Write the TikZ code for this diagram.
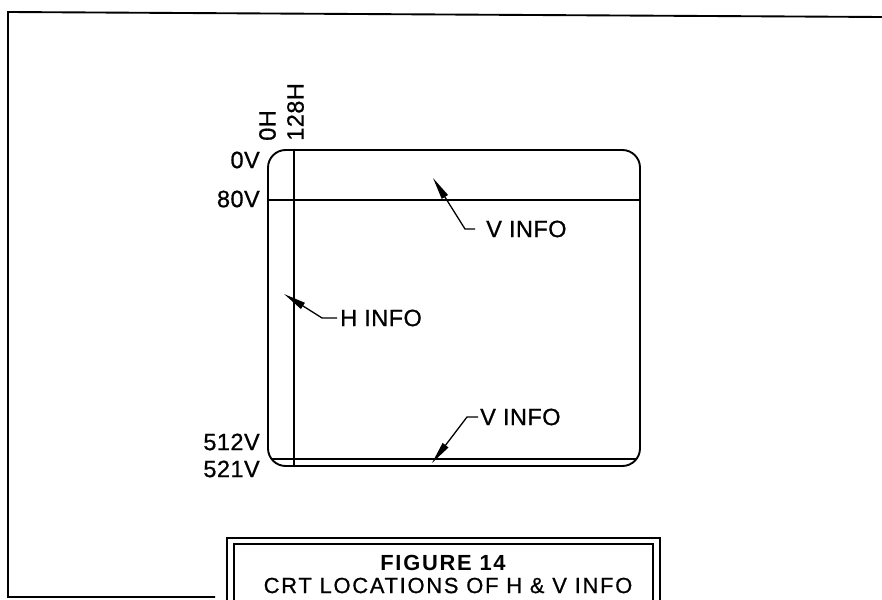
\documentclass[tikz,border=0pt]{standalone}
\usepackage{fontspec}
\setmainfont{Liberation Sans}
\newfontfamily\lblfont[LetterSpace=2,FakeBold=0.8]{Liberation Sans}
\newfontfamily\capfont[LetterSpace=8,FakeBold=0.8]{Liberation Sans}
\newfontfamily\capbfont[LetterSpace=8]{Liberation Sans Bold}
\usetikzlibrary{arrows.meta}
\begin{document}
\begin{tikzpicture}[x=0.85pt,y=-0.85pt,
  lbl/.style={font=\lblfont\fontsize{20}{22}\selectfont, inner sep=0pt},
  captext/.style={font=\capfont\fontsize{18.6}{21}\selectfont, inner sep=0pt},
  capbold/.style={font=\capbfont\fontsize{18.6}{21}\selectfont, inner sep=0pt},
  frame/.style={line width=1.6pt},
  crt/.style={line width=1.6pt, rounded corners=15pt},
  gridline/.style={line width=0.9pt},
  leader/.style={line width=1.1pt, -{Triangle[length=19pt,width=6pt]}}
]
\clip (0,0) rectangle (882,599);
% outer frame
\draw[frame] (215,597) -- (8,597) -- (8,12) -- (882,17);
% CRT screen
\begin{scope}
  \clip[rounded corners=15pt] (268,150) rectangle (640,466);
  \draw[gridline] (268,200) -- (640,200);
  \draw[gridline] (294,150) -- (294,466);
  \draw[gridline] (268,459) -- (640,459);
\end{scope}
\draw[crt] (268,150) rectangle (640,466);
% side labels
\node[lbl, anchor=east] (l0v) at (260,160) {0V};
\node[lbl, anchor=east] (l80v) at (260,199) {80V};
\node[lbl, anchor=east] (l512v) at (260,442) {512V};
\node[lbl, anchor=east] (l521v) at (260,469) {521V};
\node[lbl, rotate=90, anchor=west] (l0h) at (267.5,141) {0H};
\node[lbl, rotate=90, anchor=west] (l128h) at (295.5,141) {128H};
% info labels
\node[lbl, anchor=west] (vtop) at (486,229) {V INFO};
\node[lbl, anchor=west] (hinfo) at (340,318) {H INFO};
\node[lbl, anchor=west] (vbot) at (480,417) {V INFO};
\coordinate (tvtop) at (433,178);
\coordinate (th) at (284,294);
\coordinate (tvbot) at (432,463);
\draw[leader] ([xshift=-9.35pt]vtop.west) -- ++(-10,0) -- (tvtop);
\draw[leader] ([xshift=-2.5pt]hinfo.west) -- ++(-15,0) -- (th);
\draw[leader] ([xshift=-1.7pt]vbot.west) -- ++(-11,0) -- (tvbot);
% caption box
\draw[line width=1.7pt] (227,538) rectangle (660,620);
\draw[line width=1.3pt] (234,544) rectangle (653,620);
\node[capbold] (cap1) at (443,563) {FIGURE 14};
\node[captext] (cap2) at (448,585.5) {CRT LOCATIONS OF H \& V INFO};
\end{tikzpicture}
\end{document}
